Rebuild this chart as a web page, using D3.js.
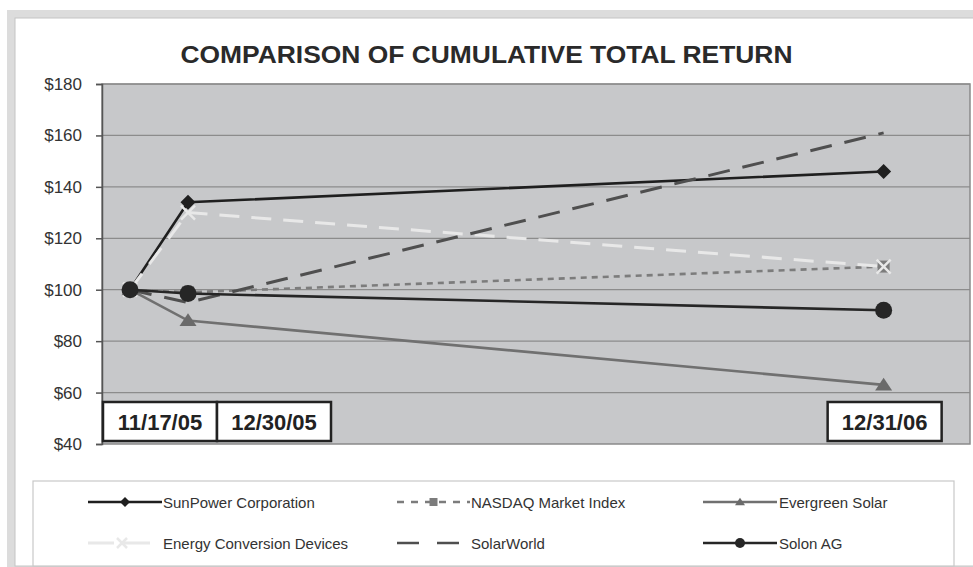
<!DOCTYPE html>
<html><head><meta charset="utf-8">
<script src="https://cdn.jsdelivr.net/npm/d3@7"></script>
<style>
html,body{margin:0;padding:0;background:#fff;}
svg{display:block;font-family:"Liberation Sans",Arial,sans-serif;}
</style></head>
<body><svg id="c" width="973" height="567"></svg>
<script>
// ---- data ----
const dateLabels = ["11/17/05", "12/30/05", "12/31/06"];
const dates = dateLabels.map(s => d3.timeParse("%m/%d/%y")(s));
const yTickValues = [40, 60, 80, 100, 120, 140, 160, 180];
const seriesNames = ["SunPower Corporation", "NASDAQ Market Index", "Evergreen Solar",
                     "Energy Conversion Devices", "SolarWorld", "Solon AG"];
const sunpower   = [100, 134, 146];
const nasdaq     = [100, 99, 109];
const evergreen  = [100, 88, 63];
const ecd        = [100, 130, 109];
const solarworld = [100, 95, 161];
const solon      = [100, 98.5, 92];
const seriesValues = [sunpower, nasdaq, evergreen, ecd, solarworld, solon];

// ---- styles ----
const styles = [
  {color:"#1f1f1f", width:2.6, dash:null,    marker:"diamond", mcolor:"#1f1f1f", msize:15, lsize:10},
  {color:"#7c7c7c", width:2.6, dash:"6,5",   marker:"square",  mcolor:"#7c7c7c", msize:12, lsize:8},
  {color:"#707070", width:2.6, dash:null,    marker:"triangle",mcolor:"#6a6a6a", msize:17, lsize:10},
  {color:"#e8e8e8", width:3,   dash:"20,12", marker:"x",       mcolor:"#e8e8e8", msize:14, lsize:10},
  {color:"#4f4f4f", width:3,   dash:"22,13", marker:null},
  {color:"#262626", width:2.6, dash:null,    marker:"circle",  mcolor:"#262626", msize:17, lsize:10}
];

const svg = d3.select("#c");
const W = 973, H = 567;

// outer frame
svg.append("rect").attr("x", 11).attr("y", 14).attr("width", W).attr("height", H - 14)
  .attr("fill", "none").attr("stroke", "#dcdcdc").attr("stroke-width", 8);
svg.append("rect").attr("x", 15).attr("y", 18).attr("width", W).attr("height", 548)
  .attr("fill", "#fff").attr("stroke", "#c4c4c4").attr("stroke-width", 1);

// title
svg.append("text").attr("x", 486.5).attr("y", 63)
  .attr("text-anchor", "middle").attr("font-size", 23).attr("font-weight", "bold")
  .attr("fill", "#2a2a2a").attr("textLength", 612).attr("lengthAdjust", "spacingAndGlyphs")
  .text("COMPARISON OF CUMULATIVE TOTAL RETURN");

// plot area
const pl = 102, pr = 970, pt = 84, pb = 444;
const pw = pr - pl;
const x = d3.scaleTime()
  .domain(dates)
  .range([pl + pw * 0.0323, pl + pw * 0.0991, pl + pw * 0.9005]);
const y = d3.scaleLinear().domain([40, 180]).range([pb, pt]);

svg.append("rect").attr("x", pl).attr("y", pt).attr("width", pw).attr("height", pb - pt)
  .attr("fill", "#c7c8ca");

// gridlines
svg.append("g").selectAll("line").data(yTickValues.slice(1)).join("line")
  .attr("x1", pl).attr("x2", pr).attr("y1", d => y(d)).attr("y2", d => y(d))
  .attr("stroke", "#8c8c8c").attr("stroke-width", 1.2);

// plot border
svg.append("rect").attr("x", pl).attr("y", pt).attr("width", pw).attr("height", pb - pt)
  .attr("fill", "none").attr("stroke", "#8a8a8a").attr("stroke-width", 1.5);

// y axis
const yAxis = d3.axisLeft(y).tickValues(yTickValues).tickSize(6).tickPadding(14)
  .tickFormat(d => "$" + d);
const ga = svg.append("g").attr("transform", `translate(${pl},0)`).call(yAxis);
ga.select(".domain").attr("stroke", "#555").attr("stroke-width", 1.5);
ga.selectAll(".tick line").attr("stroke", "#555").attr("stroke-width", 1.5);
ga.selectAll(".tick text").attr("font-size", 17).attr("fill", "#333")
  .attr("font-family", "Liberation Sans, Arial, sans-serif");

// x date label boxes
const boxW = 114, boxH = 39, boxY = 402;
const boxX = [pl + 1, pl + 1 + boxW, x(dates[2]) - boxW / 2 + 1];
const gb = svg.append("g");
dateLabels.forEach((lab, i) => {
  gb.append("rect").attr("x", boxX[i]).attr("y", boxY).attr("width", boxW).attr("height", boxH)
    .attr("fill", "#fff").attr("stroke", "#222").attr("stroke-width", 2.5);
  gb.append("text").attr("x", boxX[i] + boxW / 2).attr("y", boxY + boxH / 2 + 8)
    .attr("text-anchor", "middle").attr("font-size", 22).attr("font-weight", "bold")
    .attr("fill", "#222").text(lab);
});

// markers (size = overall width in px)
function drawMarker(g, type, cx, cy, color, size) {
  if (!type) return;
  const s = size / 2;
  if (type === "x") {
    g.append("path").attr("d", `M${cx - s},${cy - s}L${cx + s},${cy + s}M${cx - s},${cy + s}L${cx + s},${cy - s}`)
      .attr("stroke", color).attr("stroke-width", 2.5).attr("fill", "none");
    return;
  }
  if (type === "circle") {
    g.append("circle").attr("cx", cx).attr("cy", cy).attr("r", s).attr("fill", color);
    return;
  }
  let d;
  if (type === "diamond") d = `M${cx},${cy - s}L${cx + s},${cy}L${cx},${cy + s}L${cx - s},${cy}Z`;
  else if (type === "square") d = `M${cx - s},${cy - s}H${cx + s}V${cy + s}H${cx - s}Z`;
  else if (type === "triangle") d = `M${cx},${cy - s * 0.85}L${cx + s},${cy + s * 0.65}L${cx - s},${cy + s * 0.65}Z`;
  g.append("path").attr("d", d).attr("fill", color);
}

const line = d3.line().x((d, i) => x(dates[i])).y(d => y(d));
const gl = svg.append("g");
seriesValues.forEach((vals, si) => {
  const st = styles[si];
  gl.append("path").datum(vals).attr("d", line).attr("fill", "none")
    .attr("stroke", st.color).attr("stroke-width", st.width)
    .attr("stroke-dasharray", st.dash);
});
const gm = svg.append("g");
seriesValues.forEach((vals, si) => {
  const st = styles[si];
  vals.forEach((v, i) => drawMarker(gm, st.marker, x(dates[i]), y(v), st.mcolor, st.msize));
});

// legend
svg.append("rect").attr("x", 33).attr("y", 481).attr("width", 921).attr("height", 85)
  .attr("fill", "#fff").attr("stroke", "#c8c8c8").attr("stroke-width", 1.2);
const legCols = [88, 397, 703];
const legRows = [502, 543];
const legLayout = [
  {c:0, r:0, x1:162, tx:163, dash:null},   {c:1, r:0, x1:470, tx:471, dash:"7,7"},
  {c:2, r:0, x1:777, tx:779, dash:null},
  {c:0, r:1, x1:152, tx:163, dash:"26,10"}, {c:1, r:1, x1:462, tx:471, dash:"22,18"},
  {c:2, r:1, x1:777, tx:779, dash:null}
];
const gLeg = svg.append("g");
seriesNames.forEach((name, si) => {
  const st = styles[si], L = legLayout[si];
  const x0 = legCols[L.c], yy = legRows[L.r];
  gLeg.append("line").attr("x1", x0).attr("x2", L.x1).attr("y1", yy).attr("y2", yy)
    .attr("stroke", st.color).attr("stroke-width", si === 3 ? 3 : 2.6)
    .attr("stroke-dasharray", L.dash);
  drawMarker(gLeg, st.marker, (x0 + L.x1) / 2 + (si === 3 ? 2 : 0), yy, st.mcolor, st.lsize);
  gLeg.append("text").attr("x", L.tx).attr("y", yy + 5.5).attr("font-size", 15)
    .attr("fill", "#333").text(name);
});
</script>
</body></html>
